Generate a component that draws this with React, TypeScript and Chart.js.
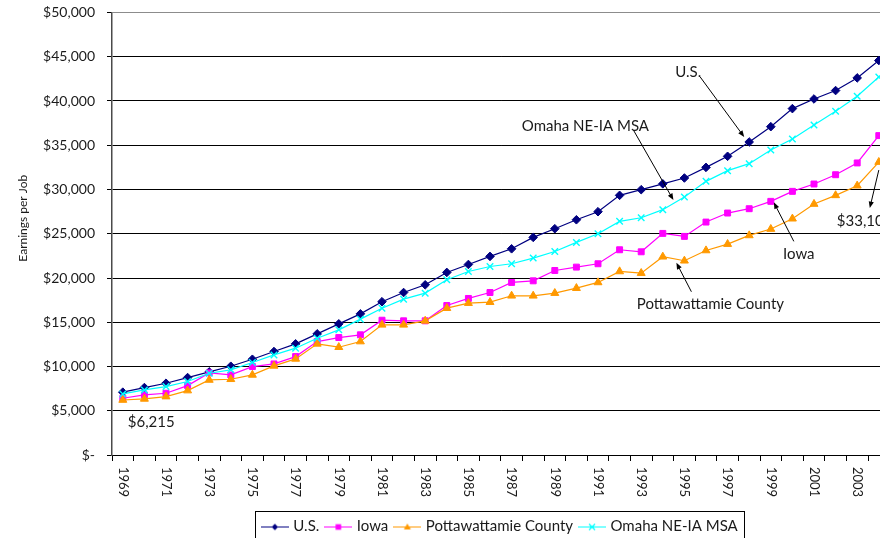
import React, { useEffect, useRef } from 'react';
import { Chart, registerables } from 'chart.js';

Chart.register(...registerables);

const years = [
  '1969', '1970', '1971', '1972', '1973', '1974', '1975', '1976', '1977', '1978',
  '1979', '1980', '1981', '1982', '1983', '1984', '1985', '1986', '1987', '1988',
  '1989', '1990', '1991', '1992', '1993', '1994', '1995', '1996', '1997', '1998',
  '1999', '2000', '2001', '2002', '2003', '2004',
];

const labeledYears = [
  '1969', '1971', '1973', '1975', '1977', '1979', '1981', '1983', '1985',
  '1987', '1989', '1991', '1993', '1995', '1997', '1999', '2001', '2003',
];

const usValues = [
  7100, 7620, 8110, 8750, 9390, 10030, 10820, 11690, 12560, 13690,
  14820, 15950, 17320, 18360, 19230, 20630, 21530, 22440, 23300, 24590,
  25570, 26580, 27490, 29340, 29980, 30640, 31300, 32500, 33750, 35370,
  37100, 39140, 40230, 41180, 42610, 44570,
];

const iowaValues = [
  6410, 6790, 6980, 7840, 9280, 9050, 9990, 10290, 11120, 12820,
  13270, 13580, 15230, 15160, 15160, 16890, 17690, 18360, 19500, 19680,
  20850, 21230, 21610, 23190, 22960, 25040, 24700, 26320, 27340, 27830,
  28660, 29790, 30620, 31670, 33000, 36090,
];

const pottValues = [
  6215, 6340, 6600, 7280, 8480, 8560, 9050, 10070, 10860, 12560,
  12180, 12820, 14710, 14710, 15160, 16590, 17160, 17270, 17990, 17990,
  18290, 18850, 19500, 20740, 20550, 22400, 21950, 23110, 23830, 24810,
  25530, 26700, 28360, 29340, 30430, 33100,
];

const omahaValues = [
  6900, 7350, 7730, 8300, 9240, 9620, 10450, 11310, 12070, 13200,
  14140, 15350, 16590, 17610, 18290, 19800, 20740, 21300, 21610, 22250,
  23000, 24020, 25000, 26400, 26810, 27720, 29150, 30920, 32130, 32920,
  34470, 35710, 37290, 38840, 40540, 42720,
];

const seriesNames = ['U.S.', 'Iowa', 'Pottawattamie County', 'Omaha NE-IA MSA'];
const seriesColors = ['#000080', '#FF00FF', '#FF9900', '#00FFFF'];
const seriesMarkers = ['rectRot', 'rect', 'triangle', 'crossRot'];

const yTicks = { min: 0, max: 50000, step: 5000 };

// callouts anchored to data points (series index, category index), offsets in px
const callouts = [
  { text: 'U.S.', series: 0, index: 29, tip: [-5, -5], tail: [-49, -65], label: [-61, -70], align: 'center' },
  { text: 'Omaha NE-IA MSA', series: 3, index: 26, tip: [-11, 3], tail: [-51, -67], label: [-99, -71], align: 'center' },
  { text: 'Iowa', series: 1, index: 30, tip: [3, 1], tail: [23, 40], label: [28, 53], align: 'center' },
  { text: 'Pottawattamie County', series: 2, index: 26, tip: [-8, 2], tail: [7, 31], label: [26, 43], align: 'center' },
  { text: '$33,100', series: 2, index: 35, tip: [-9, 46], tail: [0, 8], label: [-42, 59], align: 'left' },
];
const notes = [{ text: '$6,215', series: 2, index: 0, label: [5, 22], align: 'left' }];

const FONT = 'Lato';
const TEXT = '#1a1a1a';

function makeIcon(color: string, marker: string): HTMLCanvasElement {
  const c = document.createElement('canvas');
  c.width = 28;
  c.height = 12;
  const g = c.getContext('2d')!;
  g.strokeStyle = color;
  g.fillStyle = color;
  g.lineWidth = 1;
  g.beginPath();
  g.moveTo(0, 6.5);
  g.lineTo(28, 6.5);
  g.stroke();
  const cx = 14, cy = 6.5;
  g.beginPath();
  if (marker === 'rectRot') {
    g.moveTo(cx, cy - 3.2); g.lineTo(cx + 3.2, cy); g.lineTo(cx, cy + 3.2); g.lineTo(cx - 3.2, cy); g.closePath(); g.fill();
  } else if (marker === 'rect') {
    g.rect(cx - 2.8, cy - 2.8, 5.6, 5.6); g.fill();
  } else if (marker === 'triangle') {
    g.moveTo(cx, cy - 3.5); g.lineTo(cx + 3.5, cy + 2.5); g.lineTo(cx - 3.5, cy + 2.5); g.closePath(); g.fill();
  } else {
    g.lineWidth = 1.2;
    g.moveTo(cx - 3, cy - 3); g.lineTo(cx + 3, cy + 3);
    g.moveTo(cx + 3, cy - 3); g.lineTo(cx - 3, cy + 3); g.stroke();
  }
  return c;
}

function drawArrow(ctx: CanvasRenderingContext2D, x1: number, y1: number, x2: number, y2: number) {
  ctx.strokeStyle = '#000';
  ctx.fillStyle = '#000';
  ctx.lineWidth = 1;
  const ang = Math.atan2(y2 - y1, x2 - x1);
  const len = 7, half = 0.38;
  ctx.beginPath();
  ctx.moveTo(x1, y1);
  ctx.lineTo(x2 - Math.cos(ang) * len * 0.8, y2 - Math.sin(ang) * len * 0.8);
  ctx.stroke();
  ctx.beginPath();
  ctx.moveTo(x2, y2);
  ctx.lineTo(x2 - len * Math.cos(ang - half), y2 - len * Math.sin(ang - half));
  ctx.lineTo(x2 - len * Math.cos(ang + half), y2 - len * Math.sin(ang + half));
  ctx.closePath();
  ctx.fill();
}

const overlayPlugin = {
  id: 'overlay',
  afterDraw(chart: any) {
    const ctx: CanvasRenderingContext2D = chart.ctx;
    const xs = chart.scales.x;
    const ys = chart.scales.y;
    const seriesData = [usValues, iowaValues, pottValues, omahaValues];
    ctx.save();

    // x labels (rotated, top to bottom)
    ctx.font = `13px ${FONT}`;
    ctx.fillStyle = TEXT;
    ctx.textAlign = 'left';
    ctx.textBaseline = 'middle';
    years.forEach((yr, i) => {
      if (!labeledYears.includes(yr)) return;
      const px = xs.getPixelForValue(i);
      ctx.save();
      ctx.translate(px, xs.top + 12);
      ctx.rotate(Math.PI / 2);
      ctx.fillText(yr, 0, 0);
      ctx.restore();
    });

    // y axis title
    ctx.save();
    ctx.font = `12px ${FONT}`;
    ctx.textAlign = 'center';
    ctx.translate(23, ys.top + (ys.bottom - ys.top) * 0.465);
    ctx.rotate(-Math.PI / 2);
    ctx.fillText('Earnings per Job', 0, 0);
    ctx.restore();

    // legend border
    const lg = chart.legend;
    if (lg && lg.legendHitBoxes && lg.legendHitBoxes.length) {
      const hb = lg.legendHitBoxes;
      const l = Math.min(...hb.map((h: any) => h.left)) - 9;
      const r = Math.max(...hb.map((h: any) => h.left + h.width)) + 6;
      ctx.strokeStyle = '#000';
      ctx.lineWidth = 1;
      ctx.strokeRect(Math.round(l) + 0.5, Math.round(lg.top) + 0.5, Math.round(r - l), lg.bottom - lg.top);
    }

    // callouts
    ctx.font = `15px ${FONT}`;
    ctx.fillStyle = TEXT;
    ctx.textBaseline = 'middle';
    callouts.forEach((c) => {
      const px = xs.getPixelForValue(c.index);
      const py = ys.getPixelForValue(seriesData[c.series][c.index]);
      drawArrow(ctx, px + c.tail[0], py + c.tail[1], px + c.tip[0], py + c.tip[1]);
      ctx.fillStyle = TEXT;
      ctx.textAlign = c.align as CanvasTextAlign;
      ctx.fillText(c.text, px + c.label[0], py + c.label[1]);
    });
    notes.forEach((n) => {
      const px = xs.getPixelForValue(n.index);
      const py = ys.getPixelForValue(seriesData[n.series][n.index]);
      ctx.textAlign = n.align as CanvasTextAlign;
      ctx.fillText(n.text, px + n.label[0], py + n.label[1]);
    });
    ctx.restore();
  },
};

export default function App() {
  const ref = useRef<HTMLCanvasElement>(null);

  useEffect(() => {
    if (!ref.current) return;
    Chart.defaults.font.family = FONT;
    const icons = seriesColors.map((c, i) => makeIcon(c, seriesMarkers[i]));
    const dataArrays = [usValues, iowaValues, pottValues, omahaValues];
    const radii = [4.3, 4.2, 4.6, 4.6];
    const chart = new Chart(ref.current, {
      type: 'line',
      data: {
        labels: years,
        datasets: dataArrays.map((d, i) => ({
          label: seriesNames[i],
          data: d,
          borderColor: seriesColors[i],
          backgroundColor: seriesColors[i],
          pointBackgroundColor: seriesColors[i],
          pointBorderColor: seriesColors[i],
          pointStyle: seriesMarkers[i] as any,
          pointRadius: radii[i],
          pointBorderWidth: i === 3 ? 1.4 : 1,
          borderWidth: 1.2,
          tension: 0,
          fill: false,
          order: 4 - i,
        })),
      },
      options: {
        animation: false,
        responsive: false,
        devicePixelRatio: 1,
        layout: { padding: { left: 0, right: 10.4, top: 12.5, bottom: 0 } },
        plugins: {
          tooltip: { enabled: false },
          legend: {
            position: 'bottom',
            fullSize: false,
            labels: {
              usePointStyle: true,
              pointStyleWidth: 22,
              padding: 8,
              color: TEXT,
              font: { family: FONT, size: 15 },
              sort: (a: any, b: any) => a.datasetIndex - b.datasetIndex,
              generateLabels: (ch: any) =>
                (Chart.defaults.plugins.legend.labels as any)
                  .generateLabels(ch)
                  .map((l: any) => ({ ...l, pointStyle: icons[l.datasetIndex] })),
            },
          },
        },
        scales: {
          x: {
            offset: true,
            ticks: { display: false },
            grid: { drawOnChartArea: false, drawTicks: true, tickLength: 6, color: '#000', offset: true },
            border: { color: '#000', width: 1 },
            afterFit: (s: any) => { s.height = 56; },
          },
          y: {
            min: yTicks.min,
            max: yTicks.max,
            ticks: {
              stepSize: yTicks.step,
              padding: 12,
              color: TEXT,
              font: { family: FONT, size: 14 },
              callback: (v: any) => (Number(v) === 0 ? '$-' : '$' + Number(v).toLocaleString('en-US')),
            },
            grid: {
              color: (c: any) => (c.tick && c.tick.value === yTicks.max ? '#8c8c8c' : '#000'),
              tickColor: '#000',
              tickLength: 5,
              lineWidth: 1,
            },
            border: { color: '#4a4a4a', width: 1.5 },
            afterFit: (s: any) => { s.width = 112; s.paddingTop = 0; s.paddingBottom = 0; },
          },
        },
      } as any,
      plugins: [overlayPlugin],
    });
    return () => chart.destroy();
  }, []);

  return (
    <div style={{ position: 'fixed', left: 0, top: 0, width: 880, height: 538, overflow: 'hidden', background: '#fff' }}>
      <canvas ref={ref} width={900} height={544} style={{ display: 'block', width: 900, height: 544 }} />
    </div>
  );
}
